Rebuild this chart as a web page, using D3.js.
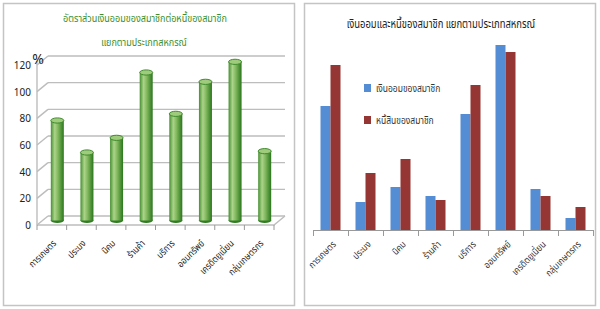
<!DOCTYPE html>
<html>
<head>
<meta charset="utf-8">
<script src="https://cdn.jsdelivr.net/npm/d3@7"></script>
<style>
  html, body { margin: 0; padding: 0; background: #fff; }
  svg { display: block; }
  text { font-family: "Noto Sans Thai", "Tahoma", "Noto Sans", "DejaVu Sans", sans-serif; }
</style>
</head>
<body>
<svg id="chart" width="600" height="309"></svg>
<script>
// Cooperative types
const categories = ["การเกษตร", "ประมง", "นิคม", "ร้านค้า", "บริการ", "ออมทรัพย์", "เครดิตยูเนี่ยน", "กลุ่มเกษตรกร"];
// Savings-to-debt ratio (%)
const ratioValues = [75, 51, 62, 111, 80, 104, 119, 52];
const ratioTicks = [0, 20, 40, 60, 80, 100, 120];
// Member savings and member debt
const savingsValues = [124, 28, 43, 34, 116, 185, 41, 12];
const debtValues = [165, 57, 71, 30, 145, 178, 34, 23];
const seriesNames = ["เงินออมของสมาชิก", "หนี้สินของสมาชิก"];

const svg = d3.select("#chart");

// narrow Thai glyphs horizontally to a condensed face
function condense(sel, k) {
  sel.each(function () {
    const w = this.getComputedTextLength();
    d3.select(this).attr("textLength", w * k).attr("lengthAdjust", "spacingAndGlyphs");
  });
}

// panel frames
const panels = [{x: 3, y: 3, w: 291, h: 302}, {x: 304, y: 3, w: 291, h: 302}];
svg.selectAll("rect.frame").data(panels).join("rect")
  .attr("class", "frame")
  .attr("x", d => d.x + 0.5).attr("y", d => d.y + 0.5)
  .attr("width", d => d.w).attr("height", d => d.h)
  .attr("fill", "#fff").attr("stroke", "#c4c4c4").attr("stroke-width", 1.5);

// ---------- left: 3D cylinder chart ----------
const L = svg.append("g");
const depth = {dx: 11, dy: -9};
const xL = d3.scaleBand().domain(categories).range([37, 274]);
const yL = d3.scaleLinear().domain([0, 120]).range([225, 65]);
const gridColor = "#bdbdbd";

const t1 = L.append("text").attr("x", 145).attr("y", 22).attr("text-anchor", "middle")
  .attr("font-size", 11).attr("fill", "#3b8e2a").text("อัตราส่วนเงินออมของสมาชิกต่อหนี้ของสมาชิก");
const t2 = L.append("text").attr("x", 144).attr("y", 46).attr("text-anchor", "middle")
  .attr("font-size", 11).attr("fill", "#3b8e2a").text("แยกตามประเภทสหกรณ์");
condense(t1, 0.82); condense(t2, 0.82);

// back wall gridlines and side-wall diagonals
ratioTicks.forEach(t => {
  const yf = yL(t);
  L.append("line").attr("x1", 37 + depth.dx).attr("x2", 274 + depth.dx)
    .attr("y1", yf + depth.dy).attr("y2", yf + depth.dy)
    .attr("stroke", gridColor).attr("stroke-width", 1.4);
  L.append("line").attr("x1", 37).attr("y1", yf).attr("x2", 37 + depth.dx).attr("y2", yf + depth.dy)
    .attr("stroke", gridColor).attr("stroke-width", 1.4);
  L.append("text").attr("x", 31).attr("y", yf + 4).attr("text-anchor", "end")
    .attr("font-size", 10).attr("fill", "#222").text(t);
});
// floor
L.append("path")
  .attr("d", `M37,${yL(0)}L274,${yL(0)}L${274 + depth.dx},${yL(0) + depth.dy}`)
  .attr("fill", "none").attr("stroke", gridColor).attr("stroke-width", 1.4);
// vertical axis
L.append("line").attr("x1", 37).attr("x2", 37).attr("y1", yL(0)).attr("y2", yL(120) - 4)
  .attr("stroke", gridColor).attr("stroke-width", 1.4);
L.append("text").attr("x", 38).attr("y", 64).attr("text-anchor", "middle")
  .attr("font-size", 14).attr("fill", "#222").text("%");
// category ticks
const bounds = categories.map(c => xL(c)).concat([xL.range()[1]]);
L.selectAll("line.tk").data(bounds).join("line").attr("class", "tk")
  .attr("x1", d => d).attr("x2", d => d).attr("y1", yL(0)).attr("y2", yL(0) + 5)
  .attr("stroke", "#999").attr("stroke-width", 1);

// cylinder gradient
const defs = svg.append("defs");
const grad = defs.append("linearGradient").attr("id", "cyl").attr("x1", "0").attr("x2", "1");
[[0, "#468f31"], [0.3, "#acd48a"], [0.55, "#82b85e"], [1, "#2a761d"]].forEach(s =>
  grad.append("stop").attr("offset", s[0]).attr("stop-color", s[1]));

const cw = 13, ry = 2.6;
const cyl = L.selectAll("g.cyl").data(categories.map((c, i) => ({c, v: ratioValues[i]}))).join("g").attr("class", "cyl");
const cx = d => xL(d.c) + xL.bandwidth() / 2 + depth.dx / 2;
const cy = v => yL(v) + depth.dy / 2;
cyl.append("ellipse").attr("cx", cx).attr("cy", cy(0)).attr("rx", cw / 2).attr("ry", ry).attr("fill", "#2f7d22");
cyl.append("rect").attr("x", d => cx(d) - cw / 2).attr("y", d => cy(d.v)).attr("width", cw)
  .attr("height", d => cy(0) - cy(d.v)).attr("fill", "url(#cyl)");
cyl.append("ellipse").attr("cx", cx).attr("cy", d => cy(d.v)).attr("rx", cw / 2).attr("ry", ry)
  .attr("fill", "#9fcb7c").attr("stroke", "#3f8b2d").attr("stroke-width", 1);

// category labels
const catL = L.selectAll("text.cat").data(categories).join("text").attr("class", "cat")
  .attr("transform", d => `translate(${xL(d) + xL.bandwidth() / 2 + 5},${yL(0) + 19}) rotate(-45)`)
  .attr("text-anchor", "end").attr("font-size", 9.6).attr("fill", "#222").text(d => d);
condense(catL, 0.85);

// ---------- right: clustered bars ----------
const R = svg.append("g");
const xR = d3.scaleBand().domain(categories).range([313, 593]);
const yR = d3.scaleLinear().domain([0, 200]).range([230, 30]);
const colors = ["#548dd4", "#963634"];
const bw = 10;

const t3 = R.append("text").attr("x", 441).attr("y", 28).attr("text-anchor", "middle")
  .attr("font-size", 11.5).attr("fill", "#222").text("เงินออมและหนี้ของสมาชิก แยกตามประเภทสหกรณ์");
condense(t3, 0.82);

[savingsValues, debtValues].forEach((vals, si) => {
  R.selectAll(`rect.s${si}`).data(categories.map((c, i) => ({c, v: vals[i]}))).join("rect")
    .attr("class", `s${si}`)
    .attr("x", d => xR(d.c) + xR.bandwidth() / 2 - bw + si * bw)
    .attr("y", d => yR(d.v)).attr("width", bw).attr("height", d => yR(0) - yR(d.v))
    .attr("fill", colors[si]);
});

R.append("line").attr("x1", 313).attr("x2", 593).attr("y1", yR(0) + 0.5).attr("y2", yR(0) + 0.5)
  .attr("stroke", "#999");
const boundsR = categories.map(c => xR(c)).concat([xR.range()[1]]);
R.selectAll("line.tk").data(boundsR).join("line").attr("class", "tk")
  .attr("x1", d => d + 0.5).attr("x2", d => d + 0.5).attr("y1", yR(0)).attr("y2", yR(0) + 6)
  .attr("stroke", "#999");
const catR = R.selectAll("text.cat").data(categories).join("text").attr("class", "cat")
  .attr("transform", d => `translate(${xR(d) + xR.bandwidth() / 2 + 6},${yR(0) + 15}) rotate(-45)`)
  .attr("text-anchor", "end").attr("font-size", 9.6).attr("fill", "#333").text(d => d);
condense(catR, 0.85);

// legend
const lg = R.selectAll("g.lg").data(seriesNames).join("g").attr("class", "lg")
  .attr("transform", (d, i) => `translate(364,${84 + i * 32})`);
lg.append("rect").attr("width", 7).attr("height", 8).attr("fill", (d, i) => colors[i]);
const lgt = lg.append("text").attr("x", 12).attr("y", 8).attr("font-size", 10).attr("fill", "#333").text(d => d);
condense(lgt, 0.85);
</script>
</body>
</html>
